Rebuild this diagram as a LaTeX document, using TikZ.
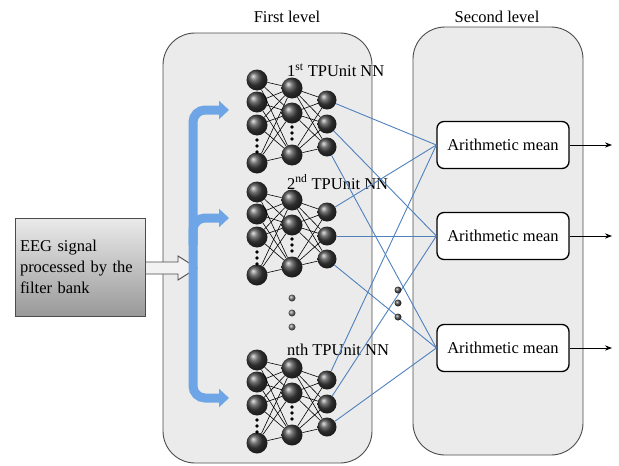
\documentclass[tikz,border=0pt]{standalone}
\usepackage{fontspec}
\setmainfont{Liberation Serif}
\usetikzlibrary{arrows.meta,positioning,shadings}
\definecolor{barblue}{RGB}{110,165,230}
\definecolor{linkblue}{RGB}{79,129,189}
\begin{document}
\begin{tikzpicture}[x=1pt,y=-1pt,font=\fontsize{16.5}{21}\selectfont,
  levelbox/.style={draw=black!70,fill=black!8,line width=0.9pt,rounded corners=32pt},
  neuron/.style={circle,inner sep=0pt,minimum size=#1,shading=ball,ball color=black!75},
  synapse/.style={black,line width=0.6pt},
  link/.style={linkblue,line width=0.9pt},
  bluebar/.style={barblue,line width=9pt,rounded corners=12pt},
  meanbox/.style={draw,fill=white,line width=1.3pt,rounded corners=7pt,minimum width=132pt,minimum height=47pt,inner sep=2pt}]
\useasboundingbox (0,0) rectangle (619,466);
% the two levels
\draw[levelbox] (163,33) rectangle (372,463);
\draw[levelbox] (413,27) rectangle (583,455);
\node (first) at (287,17) {First level};
\node (second) at (497,17) {Second level};
% input
\node[draw=black!70,line width=0.9pt,top color=black!8,bottom color=black!40,minimum width=130pt,minimum height=98pt,text width=120pt,align=left,inner sep=4pt] (eeg) at (80,267) {EEG signal\\processed by the\\filter bank};
\draw[draw=black!70,fill=black!5,line width=0.9pt] (eeg.east |- 0,262) -- (178,262) -- (178,256) -- (197,268) -- (178,280) -- (178,274) -- (eeg.east |- 0,274) -- cycle;
\draw[bluebar,{Triangle[length=10pt,width=18pt]}-{Triangle[length=10pt,width=18pt]}] (229,110) -- (193,110) -- (193,398) -- (229,398);
\draw[bluebar,-{Triangle[length=10pt,width=18pt]}] (193,245) |- (229,218);
% networks
\foreach \n/\dy/\nm in {1/0/{1\textsuperscript{st}},2/112/{2\textsuperscript{nd}},3/280/nth}{
  \foreach \i/\y in {1/80,2/102,3/125,4/163}
    \node[neuron=21pt] (a\n-\i) at (257,\y+\dy) {};
  \foreach \i/\y in {1/88,2/113,3/155}
    \node[neuron=21pt] (b\n-\i) at (292,\y+\dy) {};
  \foreach \i/\y in {1/100,2/124,3/147}
    \node[neuron=19pt] (c\n-\i) at (327,\y+\dy) {};
  \foreach \i in {1,...,4}
    \foreach \j in {1,2,3}
      \draw[synapse] (a\n-\i) -- (b\n-\j);
  \foreach \i in {1,2,3}
    \foreach \j in {1,2,3}
      \draw[synapse] (b\n-\i) -- (c\n-\j);
  \foreach \y in {140,146,152}
    \fill (257,\y+\dy) circle (1.8);
  \foreach \y in {127,133,139}
    \fill (292,\y+\dy) circle (1.8);
  \node[anchor=west,inner sep=0pt] (lab\n) at (287,70+\dy) {\nm\ TPUnit NN};
}
\foreach \y in {298,313,327}
  \shade[ball color=black!55] (292,\y) circle (3.5);
% second level
\foreach \i/\y in {1/145,2/236,3/348}{
  \node[meanbox] (mean\i) at (503,\y) {Arithmetic mean};
  \coordinate (out\i) at (612,\y);
  \draw[-{Stealth[length=7pt]},line width=1pt] (mean\i) -- (out\i);
}
\foreach \n in {1,2,3}
  \foreach \i in {1,2,3}
    \draw[link] (c\n-\i) -- (mean\i.west);
\foreach \y in {290,303,317}
  \shade[ball color=black!70] (398,\y) circle (3.5);
\end{tikzpicture}
\end{document}
